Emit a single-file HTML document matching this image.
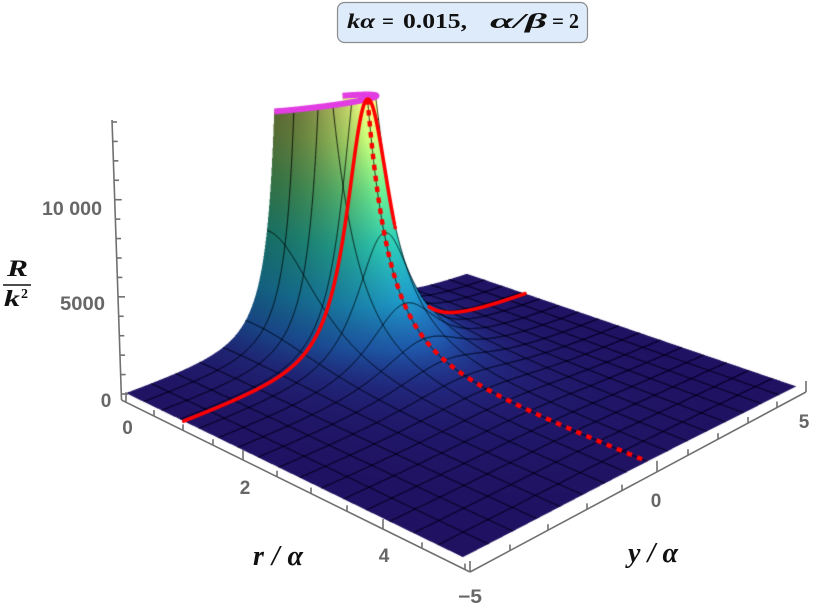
<!DOCTYPE html>
<html><head><meta charset="utf-8">
<style>
html,body{margin:0;padding:0;background:#fff;}
#wrap{position:relative;width:814px;height:612px;overflow:hidden;background:#fff;}
#cv{position:absolute;left:0;top:0;}
#ov{position:absolute;left:0;top:0;}
</style></head><body>
<div id="wrap">
<canvas id="cv" width="814" height="612"></canvas>
<svg id="ov" width="814" height="612" viewBox="0 0 814 612">
 <rect x="337.5" y="2.5" width="250" height="40" rx="7" ry="7" fill="#ddebfa" stroke="#8c8c8c" stroke-width="1.2"/>
 <g font-family="Liberation Serif, serif" font-weight="bold" font-size="21" fill="#111">
  <text x="347" y="28" font-style="italic" textLength="28" lengthAdjust="spacingAndGlyphs">kα</text>
  <text x="382" y="28">=</text>
  <text x="403" y="28" textLength="64" lengthAdjust="spacingAndGlyphs">0.015,</text>
  <text x="490" y="28" font-style="italic" textLength="57" lengthAdjust="spacingAndGlyphs">α/β</text>
  <text x="552" y="28">=</text>
  <text x="569" y="28" textLength="10" lengthAdjust="spacingAndGlyphs">2</text>
 </g>
 <g id="axes" stroke="#707070" stroke-width="1.6" fill="none">
  <line x1="121.5" y1="400" x2="112" y2="120"/>
  <line x1="121.5" y1="400" x2="470" y2="572"/>
  <line x1="470" y1="572" x2="806" y2="392"/>
 </g>
 <g font-family="Liberation Sans, sans-serif" font-weight="bold" font-size="19" fill="#676767">
  <text x="106" y="407" text-anchor="middle">0</text>
  <text x="60" y="310" textLength="45" lengthAdjust="spacingAndGlyphs">5000</text>
  <text x="42" y="215" textLength="60" lengthAdjust="spacingAndGlyphs">10 000</text>
  <text x="127.5" y="434" text-anchor="middle">0</text>
  <text x="245" y="494" text-anchor="middle">2</text>
  <text x="384" y="562" text-anchor="middle">4</text>
  <text x="458" y="603" textLength="24" lengthAdjust="spacingAndGlyphs">−5</text>
  <text x="656" y="507" text-anchor="middle">0</text>
  <text x="804" y="428" text-anchor="middle">5</text>
 </g>
 <g font-family="Liberation Serif, serif" font-weight="bold" font-style="italic" fill="#111">
  <text x="253" y="565" font-size="28" textLength="50" lengthAdjust="spacing">r/α</text>
  <text x="628" y="562" font-size="28" textLength="50" lengthAdjust="spacing">y/α</text>
  <text x="7" y="276" font-size="23" textLength="21" lengthAdjust="spacingAndGlyphs">R</text>
  <text x="4" y="306" font-size="23" textLength="16" lengthAdjust="spacingAndGlyphs">k</text>
  <text x="21" y="298" font-size="14" font-style="normal">2</text>
 </g>
 <line x1="3" y1="285" x2="31" y2="285" stroke="#111" stroke-width="1.5"/>
</svg>
</div>
<script>
(function(){
var W=814,H=612;
var cv=document.getElementById('cv');var ctx=cv.getContext('2d');
ctx.fillStyle='#fff';ctx.fillRect(0,0,W,H);
var svg=document.getElementById('ov');var axg=document.getElementById('axes');
function L(x1,y1,x2,y2){var e=document.createElementNS(svg.namespaceURI,'line');e.setAttribute('x1',x1);e.setAttribute('y1',y1);e.setAttribute('x2',x2);e.setAttribute('y2',y2);axg.appendChild(e);}
for(var k=0;k<=14;k++){var yy=394-19.43*k;var xx=121.5-9.5*(400-yy)/280;var len=(k%5==0)?7:5;L(xx,yy,xx+len,yy);}
var rx=[126,154,183,213,243,277,311,347,383,422,465];
for(var i=0;i<rx.length;i++){var x=rx[i];var y=400+(x-121.5)*172/348.5;var len=(i%4==0)?10:6;L(x,y,x,y-len);}
var yx=[470,510,548,587,622,657,688,718,748,777,806];
for(var i=0;i<yx.length;i++){var x=yx[i];var y=572-(x-470)*180/336;var len=(i%5==0)?11:6;L(x,y,x,y-len);}

var pts=[[0,-5,0,127,395],[1,-5,0,183,423],[5,-5,0,464,559],[5,0,0,645,462],[5,5,0,797,387],[0,5,0,465,276],[1,5,0,527,294],[0,-5,5,124.5,297.5],[0,-5,10,121.5,200],[1,0,13.9,368,100]];
function solve(pts){
 var n=11,M=[],i,j,r,c;for(i=0;i<n;i++){M.push(new Float64Array(n+1));}
 for(var q=0;q<pts.length;q++){var p=pts[q],X=p[0],Y=p[1],Z=p[2],u=p[3],v=p[4];
  var rows=[[X,Y,Z,1,0,0,0,0,-u*X,-u*Y,-u*Z,u],[0,0,0,0,X,Y,Z,1,-v*X,-v*Y,-v*Z,v]];
  for(var t=0;t<2;t++){var a=rows[t];for(i=0;i<n;i++){for(j=0;j<=n;j++)M[i][j]+=a[i]*a[j];}}}
 for(i=0;i<n;i++){var pv=i;for(r=i+1;r<n;r++)if(Math.abs(M[r][i])>Math.abs(M[pv][i]))pv=r;var tmp=M[i];M[i]=M[pv];M[pv]=tmp;
  for(r=0;r<n;r++){if(r===i)continue;var f=M[r][i]/M[i][i];if(f===0)continue;for(c=i;c<=n;c++)M[r][c]-=f*M[i][c];}}
 var out=[];for(i=0;i<n;i++)out.push(M[i][n]/M[i][i]);return out;}
var P=solve(pts);
function proj(r,y,z){var w=P[8]*r+P[9]*y+P[10]*z+1;return [(P[0]*r+P[1]*y+P[2]*z+P[3])/w,(P[4]*r+P[5]*y+P[6]*z+P[7])/w,w];}
var RC=1.0,ZM=13.9,NE=3.15;
function fu(r,y){var p=Math.sqrt(r*r+y*y);if(p<1e-6)p=1e-6;return ZM*(0.92+0.08*r/p)*Math.pow(RC/p,NE);}
var CM=[[0,32,16,96],[0.05,33,40,125],[0.12,30,85,165],[0.25,28,140,185],[0.45,40,185,165],[0.65,100,215,130],[0.85,190,240,115],[1,235,250,125]];
function cmap(t){t=Math.max(0,Math.min(1,t));for(var i=1;i<CM.length;i++){if(t<=CM[i][0]){var a=CM[i-1],b=CM[i];var u=(t-a[0])/(b[0]-a[0]);return [a[1]+(b[1]-a[1])*u,a[2]+(b[2]-a[2])*u,a[3]+(b[3]-a[3])*u];}}var l=CM[CM.length-1];return [l[1],l[2],l[3]];}
function vcol(r,y,z){
 var h=1e-4;var gr=(fu(r+h,y)-fu(r-h,y))/(2*h),gy=(fu(r,y+h)-fu(r,y-h))/(2*h);
 var nx=-5*0.5/ZM*gr,ny=-10*0.5/ZM*gy;var ln=Math.sqrt(nx*nx+ny*ny+1);var st=Math.sqrt(nx*nx+ny*ny)/ln;
 var gl=Math.sqrt(gr*gr+gy*gy);var hx=0,hy=0;if(gl>1e-9){hx=-gr/gl;hy=-gy/gl;}
 var t=z/ZM;var fac=1+st*(0.12*hx-(0.25+0.35*t)*Math.max(0,-hy)+0.05*Math.max(0,hy));
 var c=cmap(t);return [Math.min(255,c[0]*fac),Math.min(255,c[1]*fac),Math.min(255,c[2]*fac)];}
var NT=180,NU=110,S=2,W2=W*S,H2=H*S;
function rmax(th){var c=Math.cos(th),s=Math.abs(Math.sin(th)),m=1e9;if(c>1e-9)m=5/c;if(s>1e-9)m=Math.min(m,5/s);return m;}
function uf(u){return 0.15*u+0.85*u*u;}
var V=[];
for(var i=0;i<=NT;i++){var th=-Math.PI/2+Math.PI*i/NT;var rm=rmax(th);
 for(var j=0;j<=NU;j++){var rho=RC+(rm-RC)*uf(j/NU);var r=rho*Math.cos(th),y=rho*Math.sin(th);if(r<0)r=0;if(i===0||i===NT)r=0;var z=fu(r,y);var s=proj(r,y,z);var c=vcol(r,y,z);V.push([s[0]*S,s[1]*S,1/s[2],c[0],c[1],c[2]]);}}
var CB=new Float32Array(W2*H2*3);for(var k=0;k<CB.length;k++)CB[k]=255;
var DB2=new Float32Array(W2*H2);for(var k=0;k<DB2.length;k++)DB2[k]=-1;
function tri(a,b,c){
 var minx=Math.max(0,Math.floor(Math.min(a[0],b[0],c[0]))),maxx=Math.min(W2-1,Math.ceil(Math.max(a[0],b[0],c[0])));
 var miny=Math.max(0,Math.floor(Math.min(a[1],b[1],c[1]))),maxy=Math.min(H2-1,Math.ceil(Math.max(a[1],b[1],c[1])));
 var d=(b[0]-a[0])*(c[1]-a[1])-(c[0]-a[0])*(b[1]-a[1]);if(Math.abs(d)<1e-12)return;var id=1/d;var e=-1e-3;
 for(var py=miny;py<=maxy;py++){var yy=py+0.5;for(var px=minx;px<=maxx;px++){var xx=px+0.5;
  var l1=((b[0]-xx)*(c[1]-yy)-(c[0]-xx)*(b[1]-yy))*id;if(l1<e)continue;
  var l2=((c[0]-xx)*(a[1]-yy)-(a[0]-xx)*(c[1]-yy))*id;if(l2<e)continue;
  var l3=1-l1-l2;if(l3<e)continue;
  var iw=l1*a[2]+l2*b[2]+l3*c[2];var kk=py*W2+px;
  if(iw>DB2[kk]){DB2[kk]=iw;var k3=kk*3;CB[k3]=l1*a[3]+l2*b[3]+l3*c[3];CB[k3+1]=l1*a[4]+l2*b[4]+l3*c[4];CB[k3+2]=l1*a[5]+l2*b[5]+l3*c[5];}}}}
for(var i=0;i<NT;i++)for(var j=0;j<NU;j++){
 var a=V[i*(NU+1)+j],b=V[(i+1)*(NU+1)+j],c=V[(i+1)*(NU+1)+j+1],d=V[i*(NU+1)+j+1];tri(a,b,c);tri(a,c,d);}
var img=ctx.createImageData(W,H);var D=img.data;var DBmin=new Float32Array(W*H);
for(var y=0;y<H;y++)for(var x=0;x<W;x++){
 var k0=(2*y)*W2+2*x,k1=k0+1,k2=k0+W2,k3=k2+1;var o=(y*W+x)*4;
 for(var ch=0;ch<3;ch++){D[o+ch]=(CB[k0*3+ch]+CB[k1*3+ch]+CB[k2*3+ch]+CB[k3*3+ch])/4;}
 D[o+3]=255;
 var a0=DB2[k0],a1=DB2[k1],a2=DB2[k2],a3=DB2[k3];
 DBmin[y*W+x]=(a0<0||a1<0||a2<0||a3<0)?-1:Math.min(a0,a1,a2,a3);}
ctx.putImageData(img,0,0);
var TOL=0.006;
function runs(fn,t0,t1,N){var out=[],cur=null,acc=0,prev=null;
 for(var i=0;i<=N;i++){var t=t0+(t1-t0)*i/N;var ry=fn(t);var r=ry[0],y=ry[1];var rho=Math.sqrt(r*r+y*y);
  if(rho<RC-1e-9){if(cur){out.push(cur);cur=null;}prev=null;continue;}
  var z=fu(r,y);var s=proj(r,y,z);
  if(prev)acc+=Math.sqrt((s[0]-prev[0])*(s[0]-prev[0])+(s[1]-prev[1])*(s[1]-prev[1]));prev=s;
  var px=Math.floor(s[0]),py=Math.floor(s[1]);var vis=true;
  if(px>=0&&px<W&&py>=0&&py<H){var dd=DBmin[py*W+px];if(dd>0&&dd>(1/s[2])*(1+TOL))vis=false;}
  if(vis){if(!cur){cur=[];cur.off=acc;}cur.push(s);}else{if(cur){out.push(cur);cur=null;}}}
 if(cur)out.push(cur);return out;}
function strokeRuns(rs,dash){for(var i=0;i<rs.length;i++){var p=rs[i];if(p.length<2)continue;if(dash)ctx.lineDashOffset=p.off;ctx.beginPath();ctx.moveTo(p[0][0],p[0][1]);for(var j=1;j<p.length;j++)ctx.lineTo(p[j][0],p[j][1]);ctx.stroke();}}
ctx.lineJoin='round';
ctx.strokeStyle='rgba(0,0,0,0.85)';ctx.lineWidth=1;ctx.lineCap='butt';
for(var k=1;k<=15;k++){(function(R0){strokeRuns(runs(function(t){return [R0,t];},-5,5,4000));})(5*k/16);}
for(var k=1;k<=15;k++){(function(Y0){strokeRuns(runs(function(t){return [t,Y0];},0,5,3000));})(-5+10*k/16);}
ctx.strokeStyle='#e23de2';ctx.lineWidth=6;ctx.lineCap='butt';ctx.beginPath();
for(var i=0;i<=200;i++){var th=-Math.PI/2+Math.PI*i/200;var cr=RC*Math.cos(th),sy=RC*Math.sin(th);if(cr<0)cr=0;var s=proj(cr,sy,fu(cr,sy));if(i==0)ctx.moveTo(s[0],s[1]);else ctx.lineTo(s[0],s[1]);}
ctx.stroke();
ctx.strokeStyle='#ff0000';ctx.lineWidth=3.6;ctx.lineCap='round';
strokeRuns(runs(function(t){return [1,t];},-5,5,4000));
ctx.lineCap='butt';ctx.lineWidth=4.4;ctx.setLineDash([5.5,5.5]);
strokeRuns(runs(function(t){return [t,0];},1,5,3000),true);
ctx.setLineDash([]);ctx.lineDashOffset=0;
})();
</script>
</body></html>
